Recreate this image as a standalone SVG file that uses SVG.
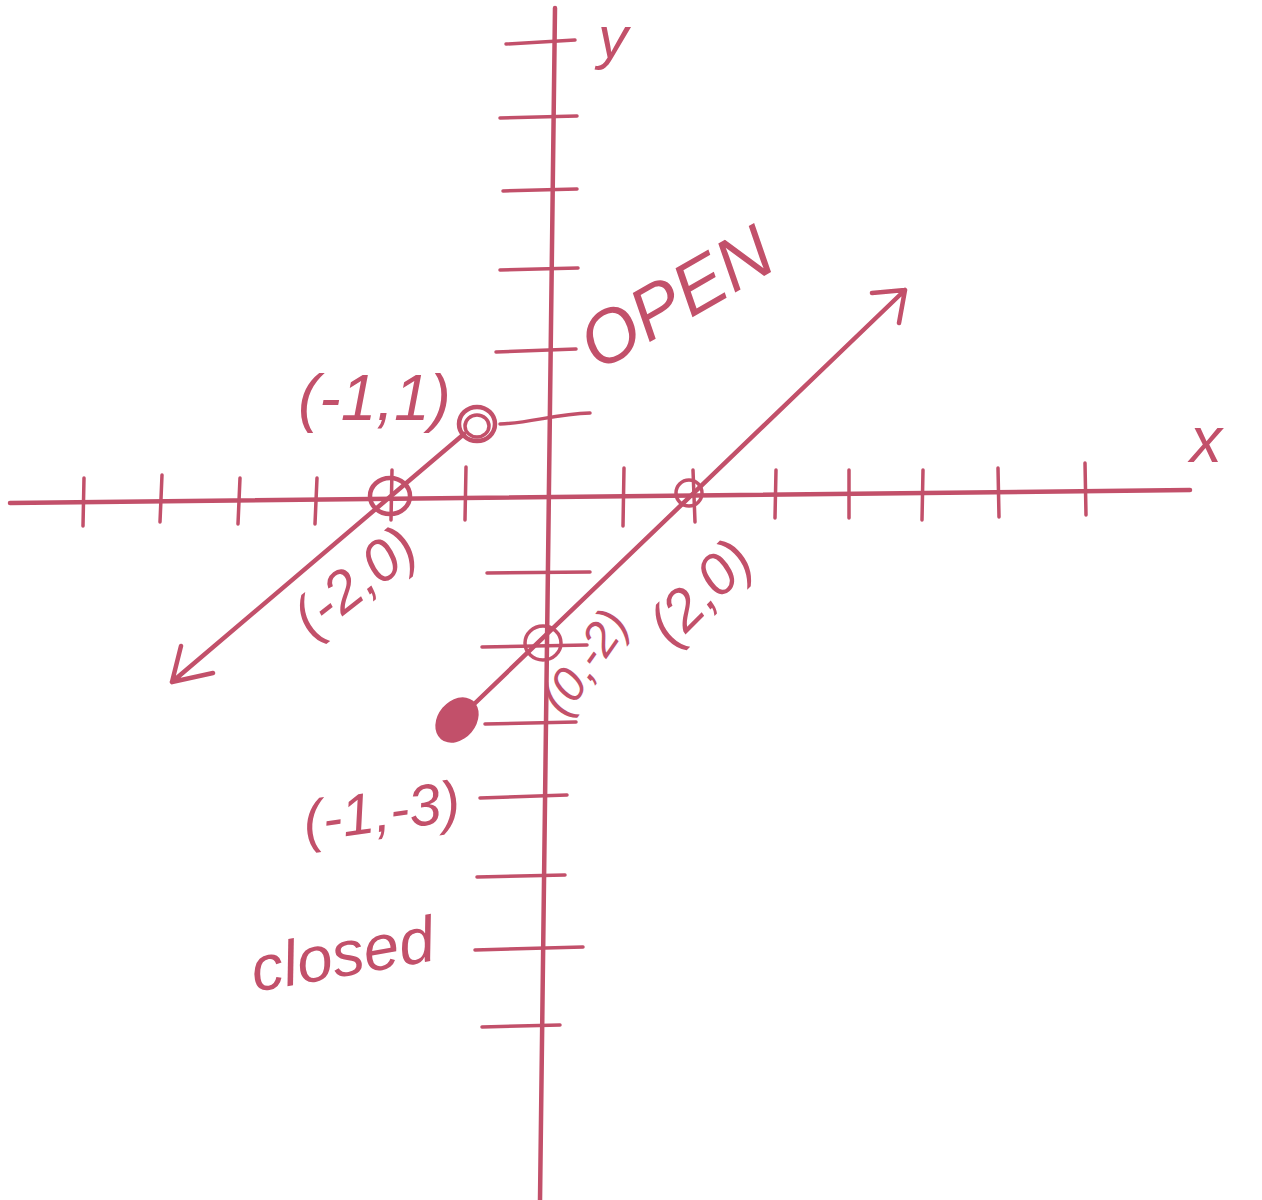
<svg xmlns="http://www.w3.org/2000/svg" width="1262" height="1200" viewBox="0 0 1262 1200">
<style>
.ln{stroke:#C2506A;stroke-width:4.5;fill:none;stroke-linecap:round;stroke-linejoin:round}
.tk{stroke:#C2506A;stroke-width:3.5;fill:none;stroke-linecap:round}
.lbl{fill:#C2506A;font-family:"Liberation Sans",sans-serif;font-style:italic}
</style>
<rect width="1262" height="1200" fill="#ffffff"/>
<g id="axes">
<path class="ln" d="M10,503 L1190,490"/>
<path class="ln" d="M555,8 L540,1200"/>
</g>
<g id="x-ticks">
<path class="tk" d="M84,478 L83,526 M162,475 L160,522 M240,478 L238,524 M317,478 L315,524 M392,470 L391,520 M466,467 L465,520 M624,468 L623,526 M693,470 L695,522 M776,470 L775,518 M849,470 L849,518 M923,470 L922,520 M998,468 L999,517 M1085,463 L1086,515"/>
</g>
<g id="y-ticks">
<path class="tk" d="M506,44 L575,40 M500,118 L577,116 M503,191 L577,189 M500,270 L578,268 M496,352 L576,349 M487,573 L590,572 M482,647 L587,645 M485,724 L576,722 M480,798 L567,795 M477,877 L565,875 M475,950 L583,947 M482,1027 L560,1025"/>
<path class="tk" d="M500,424 C530,423 555,414 590,413"/>
</g>
<g id="connectors">
<path class="ln" d="M464,434 L172,682 M172,682 L181,646 M172,682 L213,673"/>
<path class="ln" d="M470,708 L905,290 M905,290 L872,293 M905,290 L899,323"/>
</g>
<g id="point-m1-1"><ellipse class="ln" cx="477" cy="424" rx="18" ry="17"/><ellipse class="tk" cx="477" cy="426" rx="12" ry="11"/></g>
<g id="point-m2-0"><ellipse class="ln" cx="390" cy="496" rx="20" ry="18"/></g>
<g id="point-0-m2"><ellipse class="tk" cx="543" cy="643" rx="18" ry="17"/></g>
<g id="point-2-0"><ellipse class="tk" cx="689" cy="493" rx="13" ry="13"/></g>
<g id="point-m1-m3"><ellipse cx="457" cy="720" rx="19" ry="25" transform="rotate(40 457 720)" fill="#C2506A"/></g>
<g id="labels">
<text class="lbl" x="298" y="420" font-size="64">(-1,1)</text>
<text class="lbl" x="598" y="372" font-size="74" transform="rotate(-30 598 372)">OPEN</text>
<text class="lbl" x="312" y="640" font-size="58" transform="rotate(-38 312 640)">(-2,0)</text>
<text class="lbl" x="565" y="718" font-size="48" transform="rotate(-55 565 718)">(0,-2)</text>
<text class="lbl" x="672" y="648" font-size="58" transform="rotate(-45 672 648)">(2,0)</text>
<text class="lbl" x="306" y="842" font-size="58" transform="rotate(-8 306 842)">(-1,-3)</text>
<text class="lbl" x="255" y="992" font-size="64" transform="rotate(-10 255 992)">closed</text>
<text class="lbl" x="1190" y="462" font-size="64">x</text>
<text class="lbl" x="598" y="58" font-size="60">y</text>
</g>
</svg>
